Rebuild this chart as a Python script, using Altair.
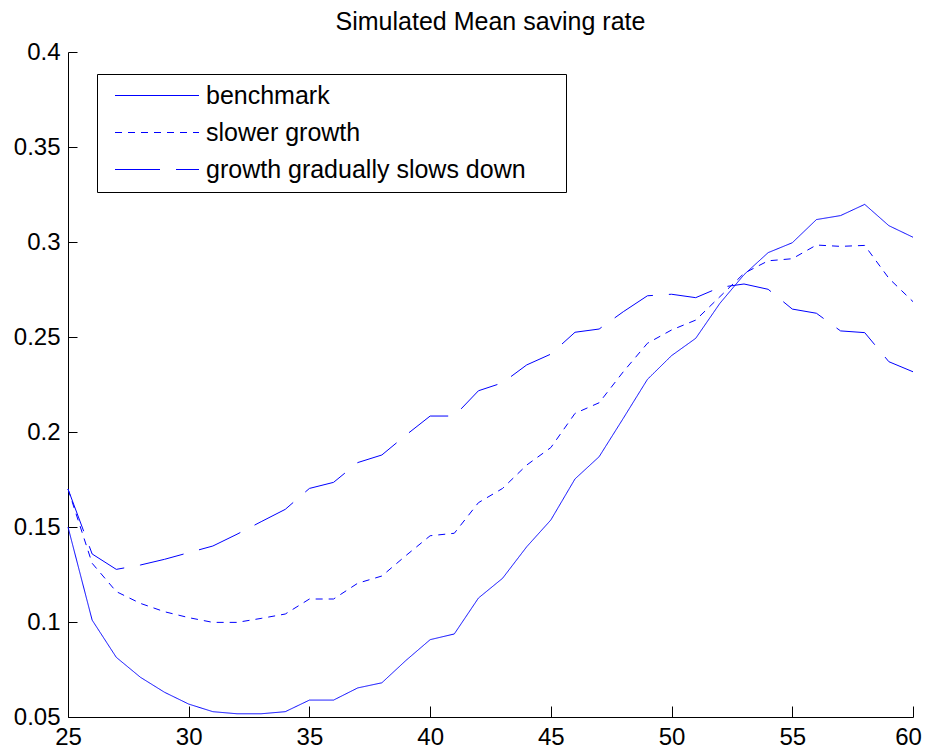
import altair as alt
import pandas as pd

ages = list(range(25, 61))

benchmark = [0.150, 0.101, 0.0814, 0.0709, 0.0630, 0.0568, 0.0528, 0.0517, 0.0517, 0.0528,
             0.0589, 0.0589, 0.0653, 0.0680, 0.0798, 0.0907, 0.0937, 0.1126, 0.1230, 0.1396,
             0.1537, 0.1753, 0.1870, 0.2072, 0.2277, 0.2402, 0.2493, 0.2677, 0.2828, 0.2944,
             0.2996, 0.3118, 0.3139, 0.3198, 0.3086, 0.3025]

slower_growth = [0.170, 0.1309, 0.1160, 0.1098, 0.1054, 0.1023, 0.0998, 0.0998, 0.1019, 0.1042,
                 0.1121, 0.1121, 0.1204, 0.1242, 0.1350, 0.1454, 0.1467, 0.1628, 0.1703, 0.1826,
                 0.1918, 0.2098, 0.2154, 0.2317, 0.2467, 0.2537, 0.2589, 0.2712, 0.2835, 0.2901,
                 0.2912, 0.2984, 0.2977, 0.2982, 0.2809, 0.2686]

gradual_slowdown = [0.170, 0.1358, 0.1277, 0.1300, 0.1330, 0.1365, 0.1400, 0.1462, 0.1528, 0.1593,
                    0.1703, 0.1735, 0.1839, 0.1879, 0.1984, 0.2084, 0.2084, 0.2217, 0.2259, 0.2353,
                    0.2410, 0.2525, 0.2542, 0.2633, 0.2717, 0.2725, 0.2707, 0.2761, 0.2779, 0.2751,
                    0.2647, 0.2625, 0.2532, 0.2523, 0.2370, 0.2317]

series_names = ["benchmark", "slower growth", "growth gradually slows down"]
x_ticks = [25, 30, 35, 40, 45, 50, 55, 60]
y_ticks = [0.05, 0.1, 0.15, 0.2, 0.25, 0.3, 0.35, 0.4]

rows = []
for name, vals in zip(series_names, [benchmark, slower_growth, gradual_slowdown]):
    for a, v in zip(ages, vals):
        rows.append({"age": a, "rate": v, "series": name})
df = pd.DataFrame(rows)

FONT = "Liberation Sans"
PLOT_W = 845
PLOT_H = 665

chart = alt.Chart(df).mark_line(color="#0000ff", strokeWidth=1).encode(
    x=alt.X("age:Q",
            scale=alt.Scale(domain=[25, 60], nice=False, zero=False),
            axis=alt.Axis(values=x_ticks, title=None, ticks=False, grid=True,
                          gridDash=[0, PLOT_H - 11, 11, 3000], gridColor="#000000",
                          gridOpacity=1, gridWidth=1,
                          domainColor="#000000", domainWidth=1,
                          labelFont=FONT, labelFontSize=24, labelColor="#000000",
                          labelPadding=8, labelFlush=False,
                          labelOffset={"condition": {"test": "datum.value == 60", "value": -5},
                                       "value": 0})),
    y=alt.Y("rate:Q",
            scale=alt.Scale(domain=[0.05, 0.4], nice=False, zero=False),
            axis=alt.Axis(values=y_ticks, title=None, ticks=False, grid=True, format=".2~f",
                          gridDash=[9, 3000], gridColor="#000000", gridOpacity=1, gridWidth=1,
                          domainColor="#000000", domainWidth=1,
                          labelFont=FONT, labelFontSize=24, labelColor="#000000",
                          labelPadding=8, labelFlush=False)),
    strokeDash=alt.StrokeDash("series:N",
                              sort=series_names,
                              scale=alt.Scale(domain=series_names,
                                              range=[[1, 0], [7, 6], [45, 16]]),
                              legend=alt.Legend(title="M", titleOrient="right", titleOpacity=0,
                                                titleFont=FONT, titleFontSize=25, titlePadding=10,
                                                orient="none", legendX=29, legendY=22,
                                                fillColor="#ffffff", strokeColor="#000000",
                                                padding=9, symbolType="M-1,0H7", symbolSize=441,
                                                symbolOffset=7, symbolStrokeWidth=1,
                                                symbolStrokeColor="#0000ff",
                                                labelFont=FONT, labelFontSize=25,
                                                labelColor="#000000", labelOffset=68,
                                                rowPadding=11, labelLimit=0)),
).properties(
    width=PLOT_W,
    height=PLOT_H,
    title=alt.Title("Simulated Mean saving rate", font=FONT, fontSize=25, fontWeight="normal",
                    color="#000000", anchor="middle", offset=5),
    autosize="none",
    padding={"left": 60, "top": 44, "right": 9, "bottom": 37},
).configure_view(stroke=None)

chart.save("out.html", embed_options={"renderer": "svg", "actions": False})
